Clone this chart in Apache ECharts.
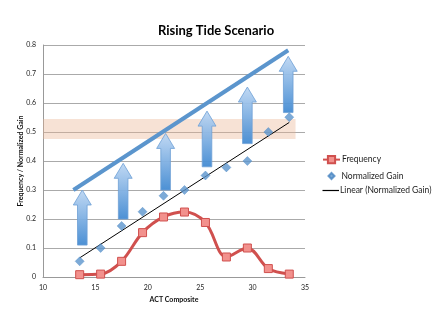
<!DOCTYPE html>
<html>
<head>
<meta charset="utf-8">
<script src="https://cdn.jsdelivr.net/npm/echarts@6/dist/echarts.min.js"></script>
<style>html,body{margin:0;padding:0;background:#fff}#c{width:432px;height:333px}</style>
</head>
<body>
<div id="c"></div>
<script>
// ---- data ----
var xValues = [13.5, 15.5, 17.5, 19.5, 21.5, 23.5, 25.5, 27.5, 29.5, 31.5, 33.5];
var frequency = [0.008, 0.01, 0.054, 0.153, 0.207, 0.224, 0.188, 0.069, 0.1, 0.029, 0.01];
var normalizedGain = [0.054, 0.1, 0.176, 0.225, 0.28, 0.30, 0.35, 0.378, 0.40, 0.50, 0.551];
var trendX = [13.5, 33.5];
var trendY = [0.066, 0.533];
var tideX = [12.9, 33.4];
var tideY = [0.30, 0.782];
var bandX = [10, 34.1];
var bandY = [0.476, 0.545];
var arrowX = [13.75, 17.65, 21.7, 25.65, 29.5, 33.4];
var arrowBase = [0.11, 0.20, 0.30, 0.38, 0.46, 0.567];
var arrowTip = [0.30, 0.392, 0.495, 0.572, 0.655, 0.761];
var xTicks = [10, 15, 20, 25, 30, 35];

function pairs(a, b) { return a.map(function (v, i) { return [v, b[i]]; }); }

var chart = echarts.init(document.getElementById('c'));
var font = 'Lato, "Open Sans", sans-serif';
var legendText = { fontFamily: font, fontSize: 8.5, color: '#222' };

chart.setOption({
  animation: false,
  title: {
    text: 'Rising Tide Scenario', left: 'center', top: 19,
    textStyle: { fontFamily: font, fontWeight: 'bold', fontSize: 13, color: '#000' }
  },
  grid: { left: 43, right: 127, top: 45, bottom: 56 },
  legend: [
    {
      orient: 'vertical', left: 317, top: 150, itemWidth: 17, itemHeight: 9,
      textStyle: Object.assign({ padding: [0, 0, 0, -3] }, legendText),
      data: ['Frequency']
    },
    {
      orient: 'vertical', left: 322.5, top: 166.5, itemWidth: 6, itemHeight: 6,
      textStyle: Object.assign({ padding: [0, 0, 0, 2] }, legendText),
      data: [{ name: 'Normalized Gain', icon: 'diamond' }]
    },
    {
      orient: 'vertical', left: 317.5, top: 181, itemWidth: 16.5, itemHeight: 1.2,
      textStyle: Object.assign({ padding: [0, 0, 0, -4] }, legendText),
      data: [{ name: 'Linear (Normalized Gain)', icon: 'rect', itemStyle: { color: '#000' } }]
    }
  ],
  xAxis: {
    type: 'value', min: xTicks[0], max: xTicks[xTicks.length - 1], interval: 5,
    name: 'ACT Composite', nameLocation: 'middle', nameGap: 19, nameMoveOverlap: false,
    nameTextStyle: { fontFamily: font, fontWeight: 'bold', fontSize: 7, color: '#111' },
    axisLine: { lineStyle: { color: '#999' } },
    axisTick: { show: false },
    axisLabel: { fontFamily: font, fontSize: 7, color: '#222', margin: 7 },
    splitLine: { show: false }
  },
  yAxis: {
    type: 'value', min: 0, max: 0.8, interval: 0.1,
    name: 'Frequency / Normalized Gain', nameLocation: 'middle', nameGap: 19, nameMoveOverlap: false,
    nameTextStyle: { fontFamily: font, fontWeight: 'bold', fontSize: 7, color: '#111' },
    axisLine: { show: true, lineStyle: { color: '#999' } },
    axisTick: { show: false },
    axisLabel: { fontFamily: font, fontSize: 7, color: '#222', margin: 7 },
    splitLine: { lineStyle: { color: '#aaa', width: 1 } }
  },
  series: [
    {
      name: 'band', type: 'line', data: [], silent: true,
      markArea: {
        silent: true,
        itemStyle: { color: 'rgba(235,180,145,0.38)' },
        data: [[{ coord: [bandX[0], bandY[0]] }, { coord: [bandX[1], bandY[1]] }]]
      }
    },
    {
      name: 'arrows', type: 'custom', z: 3,
      data: arrowX.map(function (x, i) { return [x, arrowBase[i], arrowTip[i]]; }),
      renderItem: function (params, api) {
        var pb = api.coord([api.value(0), api.value(1)]);
        var pt = api.coord([api.value(0), api.value(2)]);
        var cx = pb[0], hw = 9, sw = 4.8, hh = 15;
        return {
          type: 'polygon',
          shape: { points: [
            [cx - sw, pb[1]], [cx - sw, pt[1] + hh], [cx - hw, pt[1] + hh], [cx, pt[1]],
            [cx + hw, pt[1] + hh], [cx + sw, pt[1] + hh], [cx + sw, pb[1]]
          ] },
          style: {
            fill: { type: 'linear', x: 0, y: 0, x2: 0, y2: 1, colorStops: [
              { offset: 0, color: 'rgba(190,215,243,0.95)' },
              { offset: 1, color: 'rgba(66,138,210,0.95)' }
            ] },
            stroke: '#6d9fd6', lineWidth: 0.8
          }
        };
      }
    },
    {
      name: 'tide', type: 'line', z: 4, data: pairs(tideX, tideY), symbol: 'none',
      lineStyle: { color: '#5b95cd', width: 4 }
    },
    {
      name: 'Frequency', type: 'line', z: 5, data: pairs(xValues, frequency), smooth: 0.35,
      symbol: 'rect', symbolSize: 8,
      lineStyle: { color: '#d0504e', width: 3 },
      itemStyle: { color: '#f2918d', borderColor: '#d0504e', borderWidth: 1 }
    },
    {
      name: 'Normalized Gain', type: 'scatter', z: 6, data: pairs(xValues, normalizedGain),
      symbol: 'diamond', symbolSize: 9,
      itemStyle: { color: '#5b95cd', borderColor: '#4a86c2', borderWidth: 0.5 }
    },
    {
      name: 'Linear (Normalized Gain)', type: 'line', z: 6, data: pairs(trendX, trendY),
      symbol: 'none', lineStyle: { color: '#000', width: 1 }, itemStyle: { color: '#000' }
    }
  ]
});
</script>
</body>
</html>
